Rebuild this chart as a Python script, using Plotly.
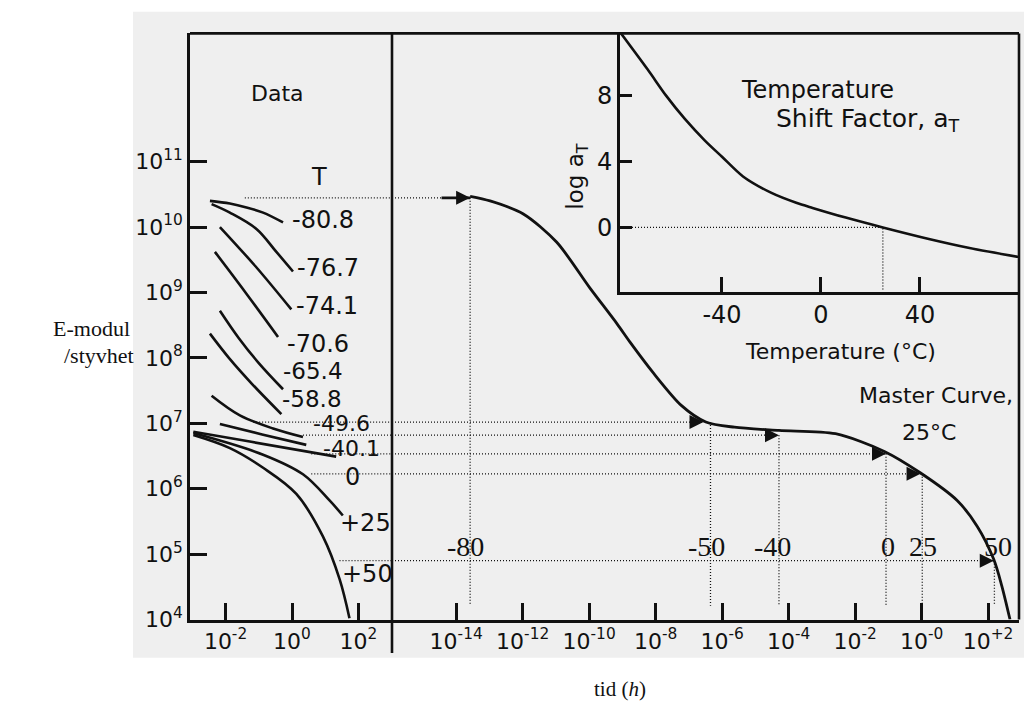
import plotly.graph_objects as go

W, H = 1024, 715

# ---------------- data (log10 values) ----------------
# Left panel "Data": log10(time, h) and log10(E) for each test temperature
temp_labels = ["-80.8", "-76.7", "-74.1", "-70.6", "-65.4", "-58.8",
               "-49.6", "-40.1", "0", "+25", "+50"]
logt_m808 = [-2.47, -1.87, -1.37, -0.87, -0.27]
logE_m808 = [10.40, 10.36, 10.30, 10.22, 10.07]
logt_m767 = [-2.42, -1.87, -1.07, -0.47, 0.03]
logE_m767 = [10.35, 10.22, 9.97, 9.62, 9.32]
logt_m741 = [-2.17, -1.10, -0.02]
logE_m741 = [10.00, 9.40, 8.74]
logt_m706 = [-2.32, -1.40, -0.42]
logE_m706 = [9.62, 9.00, 8.32]
logt_m654 = [-2.17, -1.60, -1.00, -0.27]
logE_m654 = [8.72, 8.30, 7.92, 7.52]
logt_m588 = [-2.47, -1.90, -1.20, -0.32]
logE_m588 = [8.37, 8.00, 7.60, 7.14]
logt_m496 = [-2.42, -1.57, -0.57, 0.33]
logE_m496 = [7.42, 7.12, 6.92, 6.79]
logt_m401 = [-2.17, -0.90, 0.43]
logE_m401 = [6.99, 6.83, 6.67]
logt_p0 = [-2.97, -1.27, 1.33]
logE_p0 = [6.87, 6.72, 6.49]
logt_p25 = [-2.97, -0.87, 0.33, 1.13, 1.53]
logE_p25 = [6.85, 6.52, 6.22, 5.82, 5.59]
logt_p50 = [-2.97, -1.87, -0.87, 0.13, 0.93, 1.43, 1.73]
logE_p50 = [6.82, 6.62, 6.32, 5.92, 5.27, 4.62, 4.02]

# Master curve at 25 °C: log10(reduced time, h), log10(E)
logt_master = [-13.58, -12.98, -11.98, -10.98, -9.98, -9.16, -8.77, -8.07,
               -7.22, -6.49, -5.63, -4.29, -2.59, -1.12, -0.03, 1.07, 1.68,
               2.17, 2.41, 2.66]
logE_master = [10.47, 10.40, 10.20, 9.77, 9.07, 8.52, 8.24, 7.77,
               7.27, 7.02, 6.94, 6.89, 6.84, 6.57, 6.24, 5.82, 5.42,
               4.92, 4.52, 4.00]

# Shifted points (arrows) on the master curve
shift_labels = ["-80", "-50", "-40", "0", "25", "50"]
shift_logE = [10.446, 7.018, 6.818, 6.533, 6.227, 4.90]
arrow_logt = [-13.58, -6.56, -4.29, -1.07, -0.03, 2.17]
vline_logt = [-13.58, -6.35, -4.29, -1.07, 0.02, 2.19]
hline_start_logt = [-1.42, -1.17, 0.33, 0.58, 0.58, 1.43]
arrow80_tail_logt = -14.44
vline_bottom_logE = 4.21

# Inset: temperature shift factor log(aT) vs temperature (°C)
inset_T = [-80.8, -70.0, -62.5, -55.0, -47.0, -40.0, -31.5, -20.0, -10.0, -3.4,
           10.0, 25.0, 43.6, 60.0, 80.0]
inset_logaT = [11.8, 9.6, 8.0, 6.6, 5.3, 4.3, 3.1, 2.1, 1.5, 1.19,
               0.6, 0.0, -0.7, -1.25, -1.8]
T_ref = 25.0

# axis ranges (log10 for log axes)
XL_RANGE = [-3.07, 3.01]
XR_RANGE = [-15.93, 2.93]
Y_RANGE = [4.0, 12.96]
XI_RANGE = [-81.2, 80.0]
YI_RANGE = [-3.9, 11.8]

left_ticks = [-2, 0, 2]
left_ticktext = ["10<sup>-2</sup>", "10<sup>0</sup>", "10<sup>2</sup>"]
right_ticks = [-14, -12, -10, -8, -6, -4, -2, 0, 2]
right_ticktext = ["10<sup>-14</sup>", "10<sup>-12</sup>", "10<sup>-10</sup>",
                  "10<sup>-8</sup>", "10<sup>-6</sup>", "10<sup>-4</sup>",
                  "10<sup>-2</sup>", "10<sup>-0</sup>", "10<sup>+2</sup>"]
y_ticks = [4, 5, 6, 7, 8, 9, 10, 11]
y_ticktext = ["10<sup>4</sup>", "10<sup>5</sup>", "10<sup>6</sup>", "10<sup>7</sup>",
              "10<sup>8</sup>", "10<sup>9</sup>", "10<sup>10</sup>", "10<sup>11</sup>"]
inset_xticks = [-40, 0, 40]
inset_yticks = [0, 4, 8]

# ---------------- layout helpers ----------------
FL, FR, FT, FB, DIV = 190, 1019, 34, 631, 392
IL, IB = 620, 297


def px(x):
    return x / W


def py(y):
    return 1 - y / H


def p10(vals):
    return [10 ** v for v in vals]


SANS = "DejaVu Sans"
SERIF = "Liberation Serif"
INK = "#111111"

fig = go.Figure()

left_curves = [(logt_m808, logE_m808), (logt_m767, logE_m767), (logt_m741, logE_m741),
               (logt_m706, logE_m706), (logt_m654, logE_m654), (logt_m588, logE_m588),
               (logt_m496, logE_m496), (logt_m401, logE_m401), (logt_p0, logE_p0),
               (logt_p25, logE_p25), (logt_p50, logE_p50)]
for (lt, le), name in zip(left_curves, temp_labels):
    fig.add_trace(go.Scatter(x=p10(lt), y=p10(le), mode="lines", name=name,
                             line=dict(color=INK, width=2.6, shape="spline", smoothing=1.0),
                             xaxis="x", yaxis="y", showlegend=False, hoverinfo="skip"))

DOT = dict(color=INK, width=1.3, dash="1px,2px")

# horizontal dotted lines in left panel
for s, e in zip(hline_start_logt, shift_logE):
    fig.add_trace(go.Scatter(x=p10([s, XL_RANGE[1]]), y=p10([e, e]), mode="lines",
                             line=DOT, xaxis="x", yaxis="y", showlegend=False, hoverinfo="skip"))
# horizontal dotted lines in right panel up to arrows
for i, (a, e) in enumerate(zip(arrow_logt, shift_logE)):
    end = arrow80_tail_logt if i == 0 else a
    fig.add_trace(go.Scatter(x=p10([XR_RANGE[0], end]), y=p10([e, e]), mode="lines",
                             line=DOT, xaxis="x2", yaxis="y", showlegend=False, hoverinfo="skip"))
# vertical dotted lines
for v, e in zip(vline_logt, shift_logE):
    fig.add_trace(go.Scatter(x=p10([v, v]), y=p10([e, vline_bottom_logE]), mode="lines",
                             line=DOT, xaxis="x2", yaxis="y", showlegend=False, hoverinfo="skip"))
# solid shaft for -80 arrow
fig.add_trace(go.Scatter(x=p10([arrow80_tail_logt, arrow_logt[0]]), y=p10([shift_logE[0]] * 2),
                         mode="lines", line=dict(color=INK, width=2.6),
                         xaxis="x2", yaxis="y", showlegend=False, hoverinfo="skip"))
# master curve
fig.add_trace(go.Scatter(x=p10(logt_master), y=p10(logE_master), mode="lines",
                         line=dict(color=INK, width=2.8, shape="spline", smoothing=0.8),
                         xaxis="x2", yaxis="y", showlegend=False, hoverinfo="skip"))
# arrow heads (tip at the data point)
fig.add_trace(go.Scatter(x=p10(arrow_logt), y=p10(shift_logE), mode="markers",
                         marker=dict(symbol="arrow-right", size=14, color=INK,
                                     line=dict(width=0)),
                         xaxis="x2", yaxis="y", showlegend=False, hoverinfo="skip"))

# inset curve + dotted reference
fig.add_trace(go.Scatter(x=inset_T, y=inset_logaT, mode="lines",
                         line=dict(color=INK, width=2.6, shape="spline", smoothing=0.8),
                         xaxis="x3", yaxis="y3", showlegend=False, hoverinfo="skip"))
fig.add_trace(go.Scatter(x=[XI_RANGE[0], T_ref, T_ref], y=[0, 0, YI_RANGE[0]], mode="lines",
                         line=DOT, xaxis="x3", yaxis="y3", showlegend=False, hoverinfo="skip"))

axis_common = dict(showgrid=False, zeroline=False, ticks="inside", tickcolor=INK,
                   tickwidth=2.5, linecolor=INK, linewidth=2.6,
                   tickfont=dict(family=SANS, size=22, color=INK))

fig.update_layout(
    width=W, height=H, margin=dict(l=0, r=0, t=0, b=0),
    paper_bgcolor="white", plot_bgcolor="rgba(0,0,0,0)", showlegend=False,
    xaxis=dict(domain=[px(FL), px(DIV)], type="log", range=XL_RANGE, anchor="y",
               tickvals=p10(left_ticks), ticktext=left_ticktext, ticklen=17,
               showline=True, **axis_common),
    yaxis=dict(domain=[py(FB), py(FT)], type="log", range=Y_RANGE, anchor="x",
               tickvals=p10(y_ticks), ticktext=y_ticktext, ticklen=17,
               showline=True, **axis_common),
    xaxis2=dict(domain=[px(DIV), px(FR)], type="log", range=XR_RANGE, anchor="y",
                tickvals=p10(right_ticks), ticktext=right_ticktext, ticklen=17,
                showline=True, **axis_common),
    xaxis3=dict(domain=[px(IL), px(FR)], range=XI_RANGE, anchor="y3",
                tickvals=inset_xticks, ticktext=[str(v) for v in inset_xticks], ticklen=15,
                showline=True, **axis_common),
    yaxis3=dict(domain=[py(IB), py(FT)], range=YI_RANGE, anchor="x3",
                tickvals=inset_yticks, ticktext=[str(v) for v in inset_yticks], ticklen=12,
                showline=True, **axis_common),
)
fig.update_layout(xaxis3=dict(tickfont=dict(size=24)), yaxis3=dict(tickfont=dict(size=24)))

# scan background + frame lines
shapes = [
    dict(type="rect", xref="paper", yref="paper", x0=px(133), x1=px(1024), y0=py(670), y1=py(12),
         fillcolor="#efefef", line=dict(width=0), layer="below"),
    dict(type="line", xref="paper", yref="paper", x0=px(FL), x1=px(FR), y0=py(FT), y1=py(FT),
         line=dict(color=INK, width=2.6)),
    dict(type="line", xref="paper", yref="paper", x0=px(FR), x1=px(FR), y0=py(FT), y1=py(FB),
         line=dict(color=INK, width=2.6)),
    dict(type="line", xref="paper", yref="paper", x0=px(DIV), x1=px(DIV), y0=py(FT), y1=py(665),
         line=dict(color=INK, width=2.6)),
]
fig.update_layout(shapes=shapes)


def txt(s, x, y, size=25, family=SANS, angle=0, xanchor="center"):
    return dict(text=s, x=px(x), y=py(y), xref="paper", yref="paper", showarrow=False,
                xanchor=xanchor, yanchor="middle", textangle=angle,
                font=dict(family=family, size=size, color=INK))


label_xy = [(323, 224), (328, 273), (327, 312), (318, 350), (313, 378), (312, 406),
            (341, 431), (351, 457), (352, 486), (365, 533), (367, 585)]
label_size = [24, 24, 24, 24, 23, 23, 22, 22, 24, 24, 24]
ann = [txt("Data", 277, 95, 22), txt("T", 319, 180, 24)]
for s, (x, y), fs in zip(temp_labels, label_xy, label_size):
    ann.append(txt(s, x, y, fs))

shift_label_x = [465, 706, 772, 888, 923, 998]
for s, x in zip(shift_labels, shift_label_x):
    ann.append(txt(s, x, 557, 28, SERIF))

ann += [
    txt("Temperature", 817, 92, 24),
    txt("Shift Factor, a<sub>T</sub>", 868, 122, 25),
    txt("log a<sub>T</sub>", 577, 180, 23, angle=-90),
    txt("Temperature (°C)", 840, 358, 22),
    txt("Master Curve,", 936, 403, 22),
    txt("25°C", 929, 440, 22),
    txt("E-modul", 91, 335, 22, SERIF),
    txt("/styvhet", 99, 362, 22, SERIF),
    txt("tid (<i>h</i>)", 620, 702, 21, SERIF),
]
fig.update_layout(annotations=ann)

fig.write_html("out.html")
